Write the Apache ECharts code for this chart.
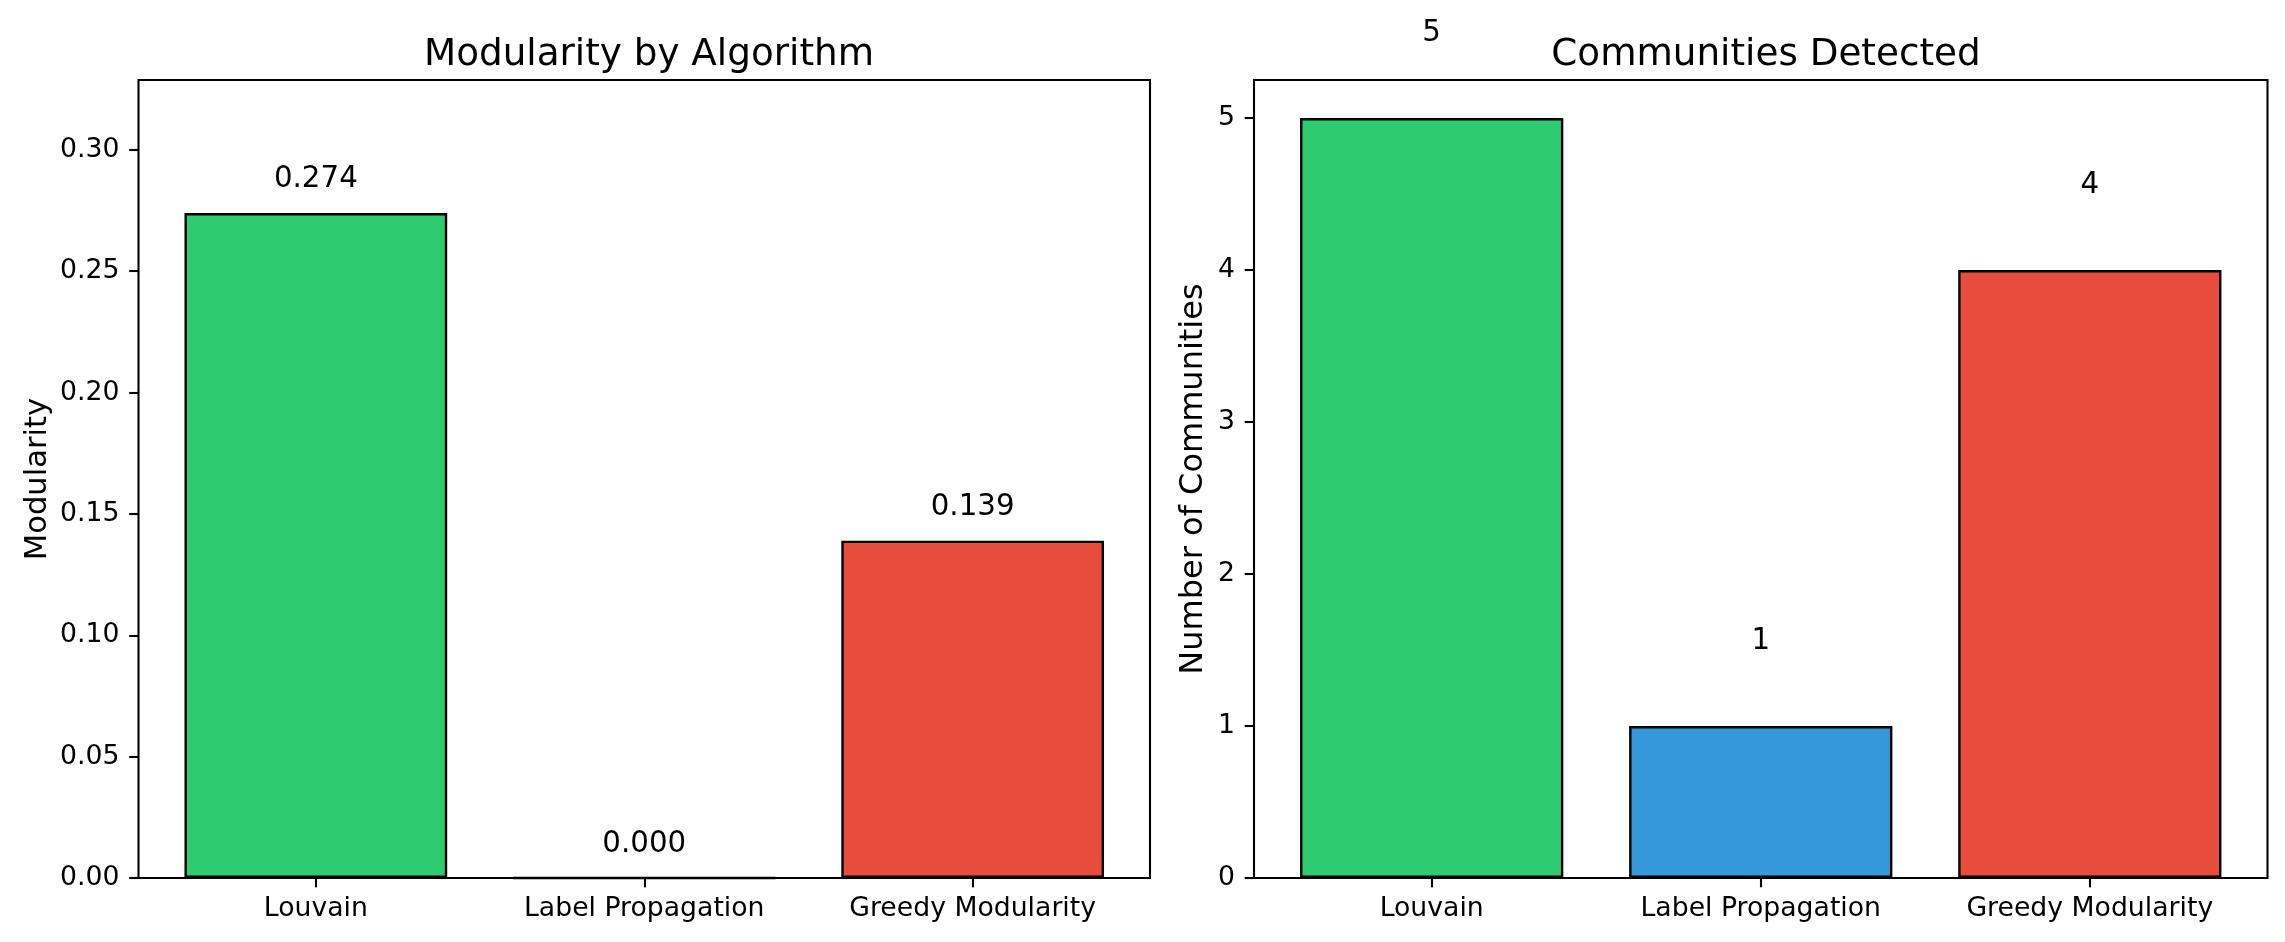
<!DOCTYPE html>
<html>
<head>
<meta charset="utf-8">
<script src="https://cdn.jsdelivr.net/npm/echarts@6/dist/echarts.min.js"></script>
<style>
html,body{margin:0;padding:0;background:#fff;}
#main{width:2285px;height:942px;}
</style>
</head>
<body>
<div id="main"></div>
<script>
const categories = ['Louvain', 'Label Propagation', 'Greedy Modularity'];
const modularity = [0.274, 0.000, 0.139];
const communities = [5, 1, 4];
const barColors = ['#2ecc71', '#3498db', '#e74c3c'];
const modTicks = [0.00, 0.05, 0.10, 0.15, 0.20, 0.25, 0.30];
const commTicks = [0, 1, 2, 3, 4, 5];

const FONT = 'DejaVu Sans';
const chart = echarts.init(document.getElementById('main'), null, {renderer: 'canvas'});

function barData(vals) {
  return vals.map((v, i) => ({value: [i, v], itemStyle: {color: barColors[i]}}));
}
function labelData(vals, off, fmt) {
  return vals.map((v, i) => ({value: [i, v + off], name: fmt(v)}));
}
function xAxisDef(idx) {
  return {
    type: 'value', gridIndex: idx, min: -0.54, max: 2.54,
    splitLine: {show: false}, axisLine: {show: false, onZero: false},
    axisTick: {show: true, inside: false, length: 9.3, lineStyle: {color: '#000', width: 2.1}, customValues: [0, 1, 2]},
    axisLabel: {show: true, margin: 18, color: '#000', fontFamily: FONT, fontSize: 26.7,
      customValues: [0, 1, 2], formatter: v => categories[Math.round(v)]}
  };
}
function yAxisDef(idx, max, ticks, dec, name, gap, nameSize) {
  return {
    type: 'value', gridIndex: idx, min: 0, max: max,
    splitLine: {show: false}, axisLine: {show: false, onZero: false},
    axisTick: {show: true, inside: false, length: 9.3, lineStyle: {color: '#000', width: 2.1}, customValues: ticks},
    axisLabel: {margin: 19, color: '#000', fontFamily: FONT, fontSize: 26.7, customValues: ticks,
      formatter: v => v.toFixed(dec)},
    name: name, nameLocation: 'middle', nameGap: gap,
    nameTextStyle: {color: '#000', fontFamily: FONT, fontSize: nameSize}
  };
}
const labelStyle = {show: true, position: 'top', distance: -6, formatter: p => p.name,
  color: '#000', fontFamily: FONT, fontSize: 29.3, lineHeight: 30, opacity: 1};

const option = {
  animation: false,
  backgroundColor: '#fff',
  title: [
    {text: 'Modularity by Algorithm', left: 644, top: 31, textAlign: 'center',
      textStyle: {fontFamily: FONT, fontSize: 37.3, fontWeight: 'normal', color: '#000', lineHeight: 38}},
    {text: 'Communities Detected', left: 1761, top: 31, textAlign: 'center',
      textStyle: {fontFamily: FONT, fontSize: 37.3, fontWeight: 'normal', color: '#000', lineHeight: 38}}
  ],
  grid: [
    {left: 138.5, top: 80, width: 1011.5, height: 798, show: true, borderColor: '#000', borderWidth: 2.1, backgroundColor: 'transparent'},
    {left: 1254, top: 80, width: 1013.5, height: 798, show: true, borderColor: '#000', borderWidth: 2.1, backgroundColor: 'transparent'}
  ],
  xAxis: [xAxisDef(0), xAxisDef(1)],
  yAxis: [
    yAxisDef(0, modularity[0] * 1.2, modTicks, 2, 'Modularity', 85, 30.6),
    yAxisDef(1, 5.25, commTicks, 0, 'Number of Communities', 44, 32)
  ],
  series: [
    {type: 'bar', xAxisIndex: 0, yAxisIndex: 0, barWidth: '80%', data: barData(modularity),
      itemStyle: {borderColor: '#000', borderWidth: 2.4}},
    {type: 'bar', xAxisIndex: 1, yAxisIndex: 1, barWidth: '80%', data: barData(communities),
      itemStyle: {borderColor: '#000', borderWidth: 2.4}},
    {type: 'scatter', xAxisIndex: 0, yAxisIndex: 0, symbolSize: 0, clip: false, silent: true,
      itemStyle: {opacity: 1, color: 'rgba(0,0,0,0)'},
      data: labelData(modularity, 0.01, v => v.toFixed(3)), label: labelStyle},
    {type: 'scatter', xAxisIndex: 1, yAxisIndex: 1, symbolSize: 0, clip: false, silent: true,
      itemStyle: {opacity: 1, color: 'rgba(0,0,0,0)'},
      data: labelData(communities, 0.5, v => String(v)), label: labelStyle}
  ]
};
chart.setOption(option);
</script>
</body>
</html>
